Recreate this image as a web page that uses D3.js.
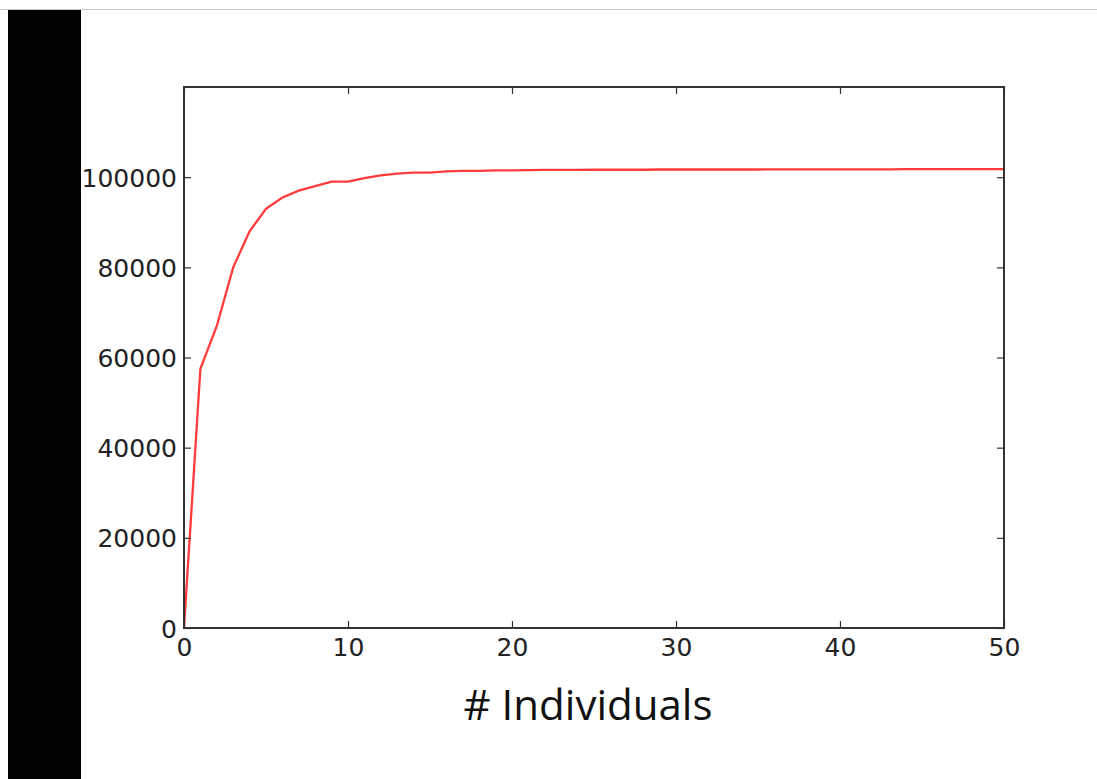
<!DOCTYPE html>
<html lang="en">
<head>
<meta charset="utf-8">
<title>Cumulative count vs individuals</title>
<script src="https://cdn.jsdelivr.net/npm/d3@7"></script>
<style>
  body { margin: 0; background: #fff; }
  .tick text { font-family: "DejaVu Sans", sans-serif; font-size: 25px; fill: #222; }
  .xlabel { font-family: "Open Sans", sans-serif; font-size: 42px; fill: #111; text-anchor: middle; }
</style>
</head>
<body>
<script>
// data
var individuals = d3.range(0, 51);
var counts = [0, 57500, 67000, 80000, 88000, 93000, 95500, 97000, 98000, 99000,
  99000, 99800, 100400, 100800, 101000, 101000, 101300, 101400, 101400, 101500,
  101500, 101550, 101600, 101600, 101600, 101650, 101650, 101650, 101650, 101700,
  101700, 101700, 101700, 101700, 101700, 101700, 101750, 101750, 101750, 101750,
  101750, 101750, 101750, 101750, 101800, 101800, 101800, 101800, 101800, 101800, 101800];
var xTicks = [0, 10, 20, 30, 40, 50];
var yTicks = [0, 20000, 40000, 60000, 80000, 100000];

var w = 1097, h = 779;
var m = {left: 184, right: 1004, top: 87, bottom: 628};

var svg = d3.select("body").append("svg")
  .attr("width", w).attr("height", h);

// slide decorations
svg.append("line").attr("x1", 0).attr("x2", 1097).attr("y1", 9.5).attr("y2", 9.5)
  .attr("stroke", "#c8c8c8").attr("stroke-width", 1);
svg.append("rect").attr("x", 8).attr("y", 10).attr("width", 73).attr("height", 769)
  .attr("fill", "#000");

var x = d3.scaleLinear().domain([0, 50]).range([m.left, m.right]);
var y = d3.scaleLinear().domain([0, 120000]).range([m.bottom, m.top]);

// line
var line = d3.line().x(function(d, i) { return x(individuals[i]); })
  .y(function(d) { return y(d); });
svg.append("path").datum(counts).attr("d", line)
  .attr("fill", "none").attr("stroke", "#ff3b3b").attr("stroke-width", 2.3);

// axes with inward ticks (matplotlib classic)
var xAxis = svg.append("g").attr("transform", "translate(0," + m.bottom + ")")
  .call(d3.axisBottom(x).tickValues(xTicks).tickSize(-7).tickPadding(10).tickFormat(d3.format("d")));
var xTop = svg.append("g").attr("transform", "translate(0," + m.top + ")")
  .call(d3.axisTop(x).tickValues(xTicks).tickSize(-7).tickFormat(""));
var yAxis = svg.append("g").attr("transform", "translate(" + m.left + ",0)")
  .call(d3.axisLeft(y).tickValues(yTicks).tickSize(-7).tickPadding(7).tickFormat(d3.format("d")));
var yRight = svg.append("g").attr("transform", "translate(" + m.right + ",0)")
  .call(d3.axisRight(y).tickValues(yTicks).tickSize(-7).tickFormat(""));

[xAxis, xTop, yAxis, yRight].forEach(function(g) {
  g.select(".domain").remove();
  g.selectAll(".tick line").attr("stroke", "#333").attr("stroke-width", 1.2);
});
yAxis.selectAll(".tick text").attr("dy", "0.36em");

// frame
svg.append("rect").attr("x", m.left).attr("y", m.top)
  .attr("width", m.right - m.left).attr("height", m.bottom - m.top)
  .attr("fill", "none").attr("stroke", "#333").attr("stroke-width", 2);

svg.append("text").attr("class", "xlabel")
  .attr("x", 588).attr("y", 720).text("# Individuals");
</script>
</body>
</html>
